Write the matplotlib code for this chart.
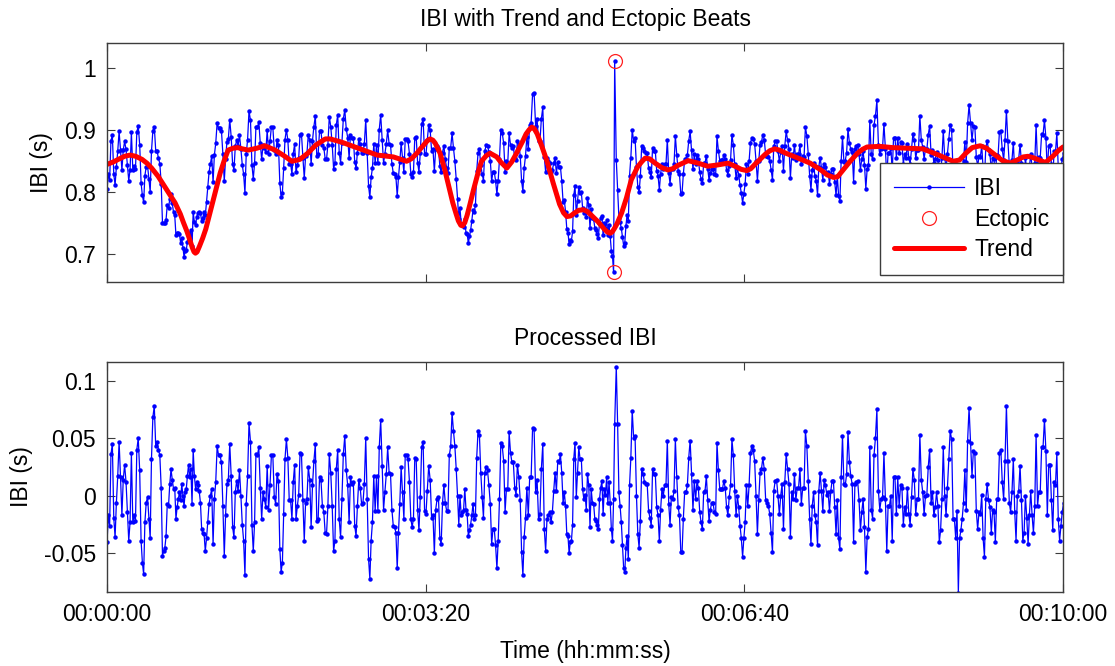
import numpy as np
import matplotlib
matplotlib.use('Agg')
import matplotlib.pyplot as plt

plt.rcParams['font.family'] = ['Liberation Sans', 'DejaVu Sans']

# Inter-beat intervals (ms)
ibi_ms = [
804, 828, 819, 882, 891, 828, 811, 840, 865, 897, 867, 835, 867, 881, 868, 843, 818, 835, 896, 835,
841, 837, 896, 906, 876, 814, 794, 783, 826, 840, 842, 820, 800, 865, 898, 905, 866, 865, 854, 845,
813, 750, 750, 749, 755, 779, 773, 788, 796, 781, 767, 762, 730, 733, 733, 732, 718, 726, 710, 695,
704, 706, 719, 733, 726, 738, 713, 767, 751, 747, 760, 765, 768, 766, 752, 758, 767, 762, 783, 807,
831, 845, 857, 815, 859, 878, 911, 902, 903, 898, 860, 817, 853, 880, 885, 916, 888, 844, 835, 873,
883, 874, 891, 869, 843, 828, 798, 860, 884, 930, 915, 843, 821, 846, 905, 904, 912, 878, 852, 875,
870, 864, 899, 861, 881, 905, 904, 867, 860, 883, 875, 814, 792, 798, 838, 884, 900, 883, 845, 845,
829, 861, 877, 831, 843, 854, 892, 893, 855, 822, 857, 862, 892, 883, 844, 882, 905, 922, 857, 861,
898, 897, 875, 871, 853,
852, 876, 921, 905, 876, 837, 846, 907, 924, 863, 847, 879, 917, 932, 901,
887, 854, 892, 886, 887, 848, 838, 863, 885, 877, 862, 862, 877, 916, 862, 809, 791, 823, 838, 877,
846, 876, 846, 900, 924, 884, 846, 861, 877, 899, 877, 876, 845, 830, 829, 824, 793, 823, 848, 878,
855, 831, 885, 885, 881, 861, 829, 823, 831, 887, 888, 847, 832, 862, 909, 917, 860, 860, 883, 908,
899, 866, 868, 833, 869, 874, 871,
841, 831, 863, 874, 852, 838, 830, 871, 871, 894, 870, 849, 820,
789, 756, 773, 748, 746, 743, 756, 733, 732, 717, 728, 738, 753, 771, 767, 779, 833, 862, 868, 843,
829, 818, 865, 875, 874, 864, 850, 817, 832, 832, 817, 796, 818, 853, 899, 894, 878, 832, 850,
847, 894, 875, 870, 873, 854, 851, 882, 875, 858, 817, 801, 838, 858, 888, 869, 907, 911, 957, 959,
906, 917, 881, 881, 917, 936, 856, 831, 854, 850, 847, 832, 835, 846, 854, 830, 848, 840, 840, 817,
784, 786, 768, 740, 734, 716, 723, 721, 736, 794,
809, 763, 785, 807, 798, 799, 774, 766, 771, 759, 790, 778, 741, 772, 758, 756, 742, 738, 732, 726,
750, 758, 761, 730, 749, 742, 755, 731, 747, 728, 704, 696,
670, 1010, 851, 803, 758,
751, 741, 727, 713, 718, 745, 763, 753, 826, 855, 900, 881, 887,
839, 808, 799, 825, 873, 871, 866, 863, 862, 838, 831, 823, 871, 866, 865, 834, 826, 803, 829, 845,
837, 845, 844, 884, 830, 813, 837, 836, 844, 890, 859, 834, 828, 797, 798, 828, 852, 853, 859,
882, 897, 867, 836, 860, 844, 859, 852, 831, 821, 814, 846, 846, 858, 837, 819, 830, 836, 836, 829,
827, 889, 866, 850, 851, 851, 859, 853, 835, 827, 842, 851, 891, 876, 844, 822, 838, 827, 810,
798, 782, 797, 812, 845, 829, 849, 879, 886, 885, 877, 849, 818, 849, 875, 880, 892, 884, 858, 858,
856, 850, 835, 819, 873, 881, 881, 866, 849, 864, 873, 834, 874, 897, 883, 869, 822, 860, 854, 875,
851, 861, 860, 875, 844, 857, 856, 904, 890, 860, 826, 803, 835, 846,
825, 817, 795, 840, 855, 838, 819, 845, 839, 830, 831, 813, 829, 837, 836, 815, 794, 825, 793, 785,
849, 888, 848, 850, 863, 901, 878, 868, 864, 816, 869, 873, 876, 860, 835, 853, 865, 843, 805, 836,
843, 914, 860, 852, 907, 922, 947, 876, 860, 869, 871, 909, 869, 823, 862, 862, 871, 832, 887, 887,
855, 887, 862, 880, 878, 845, 860, 854, 877, 854, 845, 869, 893, 884, 854, 867, 867, 922, 883, 872,
853, 869, 868, 892, 906, 859, 867, 846, 852, 864, 851, 819, 828, 854, 898, 855, 838, 861, 885,
908, 900, 830, 829, 812, 837, 767, 815, 823, 834, 850, 880, 848, 910, 939, 910, 883, 906, 905, 856,
841, 857, 856, 874, 837, 821, 870, 882, 867, 860, 836, 855, 852, 824, 859, 857, 896, 897, 868, 851,
883, 930, 881, 844, 835, 851, 879, 832, 808, 848, 853, 876, 847, 813, 821, 854, 836, 814, 839,
861, 839, 823, 846, 907, 844, 856, 855, 893, 892, 915, 887, 831, 874, 875, 845, 821, 865, 864, 894,
840, 823, 838, 852, 862, 863, 823,
]

# Processed (detrended, corrected) IBI (ms)
proc_ms = [
-40, -17, -26, 36, 45, -19, -36, -6, 17, 47, 16, -17, 14, 27, 12, -14, -39, -23, 37, -23,
-17, -22, 40, 50, 22, -39, -58, -68, -23, -6, -1, -20, -37, 32, 68, 78, 43, 47, 40, 35,
7, -52, -48, -45, -35, -7, -9, 10, 23, 14, 6, 7, -20, -10, -3, 3, -4, 10, 0, -9,
3, 6, 17, 27, 16, 23, -7, 40, 17, 6, 12, 9, 4, -6, -29, -32, -33, -48, -37, -23,
-7, 0, 6, -42, -3, 12, 43, 35, 35, 29, -9, -52, -17, 10, 14, 45, 17, -27, -36, 3,
13, 4, 22, 0, -25, -39, -69, -7, 17, 63, 47, -25, -48, -23, 36, 35, 42, 7, -20, 3,
-3, -10, 26, -12, 9, 35, 35, -1, -7, 19, 13, -46, -66, -58, -16, 32, 49, 33, -4, -4,
-20, 12, 27, -20, -9, 1, 37, 36, -4, -39, -6, -3, 25, 14, -27, 9, 30, 45, -22, -20,
16, 14, -9, -14, -32,
-33, -9, 36, 20, -9, -48, -39, 23, 40, -20, -36, -3, 36, 52, 22,
9, -23, 16, 10, 12, -26, -35, -9, 14, 7, -7, -6, 10, 50, -3, -55, -72, -39, -23, 17,
-13, 17, -13, 42, 66, 26, -12, 3, 19, 42, 20, 19, -12, -26, -27, -32, -63, -32, -7, 25,
3, -20, 35, 35, 32, 12, -20, -27, -20, 33, 32, -12, -30, -1, 42, 47, -13, -16, 4, 26,
14, -19, -17, -50, -12, -3, -1,
-37, -42, -6, 9, -6, -13, -13, 35, 43, 72, 56, 43, 23,
0, -25, 0, -17, -14, -12, 6, -12, -16, -35, -30, -25, -17, -7, -20, -17, 33, 56, 53, 20,
-1, -19, 20, 25, 22, 9, -7, -42, -29, -29, -43, -63, -39, -3, 46, 43, 30, -14, 6,
6, 55, 37, 29, 29, 7, 1, 27, 16, -4, -49, -69, -36, -19, 7, -17, 16, 16, 59, 58,
3, 14, -20, -16, 23, 45, -29, -48, -20, -17, -14, -23, -14, 4, 20, 4, 30, 29, 36, 20,
-6, 3, -9, -33, -35, -50, -40, -39, -25, 32,
46, -1, 20, 42, 32, 32, 6, -3, 1, -12, 19, 9, -27, 6, -6, -7, -20, -22, -25, -29,
-3, 7, 13, -16, 6, 1, 16, -6, 12, -6, -29, -39,
-3, 62, 112, 62, 3,
-9, -23, -43, -63, -66, -45, -35, -55, 9, 33, 74, 50, 52,
0, -33, -45, -22, 23, 19, 12, 10, 10, -13, -19, -26, 23, 19, 19, -10, -17, -39, -12, 6,
0, 9, 9, 48, -7, -25, -1, -3, 4, 49, 16, -10, -17, -49, -49, -20, 3, 3, 9,
33, 48, 19, -12, 13, -3, 13, 7, -14, -23, -29, 3, 4, 17, -4, -22, -12, -6, -6, -14,
-16, 46, 22, 6, 6, 6, 13, 7, -10, -17, -1, 9, 49, 35, 4, -17, 0, -10, -26,
-37, -53, -37, -23, 9, -9, 9, 37, 43, 40, 30, 0, -33, -4, 20, 23, 33, 23, -4, -6,
-9, -16, -32, -49, 4, 13, 14, 0, -16, 0, 10, -29, 12, 36, 23, 10, -36, 3, -3, 19,
-4, 7, 7, 23, -7, 7, 7, 56, 43, 13, -20, -42, -9, 3,
-17, -23, -43, 4, 20, 4, -13, 14, 9, 1, 3, -13, 4, 13, 13, -10, -33, -4, -37, -46,
16, 52, 10, 9, 19, 55, 29, 17, 10, -40, 10, 12, 13, -4, -30, -14, -3, -27, -66, -36,
-29, 42, -12, -20, 35, 50, 75, 4, -12, -3, -1, 37, -3, -48, -9, -9, 0, -39, 16, 16,
-16, 16, -9, 9, 7, -25, -10, -16, 7, -16, -25, -1, 23, 14, -16, -3, -3, 53, 14, 3,
-16, 0, 1, 25, 40, -6, 3, -17, -10, 3, -9, -40, -30, -3, 42, 0, -17, 7, 32,
56, 49, -20, -20, -37, -13, -84, -37, -30, -20, -6, 22, -12, 48, 76, 46, 17, 39, 37, -13,
-29, -14, -16, 1, -37, -53, -3, 10, -4, -10, -32, -12, -14, -40, -3, -3, 37, 40, 12, -3,
30, 78, 30, -6, -14, 3, 32, -14, -39, 0, 4, 26, -4, -39, -32, 0, -19, -42, -17,
4, -17, -32, -9, 53, -9, 3, 3, 42, 42, 66, 39, -17, 27, 27, -4, -30, 12, 9, 37,
-20, -39, -26, -14, -6, -7, -49,
]

# indices of the two ectopic beats
ectopic_idx = [381, 382]

# Trend curve (time in s, value in ms)
trend_t = [0, 4, 7, 11, 14.5, 18, 22, 25, 28, 32, 37, 42.7, 46, 48, 50, 52,
           53.5, 54.6, 55.5, 56.5, 58, 60, 62, 65, 67.8, 71, 73.5, 76, 79, 82, 85, 88.5,
           94, 99, 105.5, 111, 116, 121, 126, 131, 137, 140,
           147, 154.6, 162, 169.5, 179.7, 188, 191, 194.5, 197, 199, 201, 202.7, 204.5,
           206, 209, 212, 215, 217, 219, 220.5, 222, 223, 224.5, 226, 228, 230, 233, 235,
           238, 240.4, 244.6, 247, 250.9, 254, 257, 259, 261, 263, 265, 266.6, 268, 270,
           272.9, 276, 280, 284, 286.5, 288.6, 291, 293, 296, 299, 301.5, 304, 308, 312, 314,
           315.7, 317, 318.5, 320, 323, 326, 329, 333, 335.5, 337.7, 340.5, 344, 348, 352, 355, 358,
           364.7, 371, 377, 383, 389.8, 395, 398, 401.5, 404, 407, 413, 416, 419, 422,
           426, 433.8, 441.3, 448, 452, 456, 458.5, 461, 466.4, 471, 474, 477, 485, 493,
           512, 521, 531, 535, 539, 543, 548, 552, 557, 562, 567, 572, 575, 578, 581, 584,
           589, 594, 597, 600]
trend_ms = [844, 848, 852, 857, 859, 857, 852, 846, 838, 825, 805, 782, 764, 750, 737, 722,
            710, 703, 701, 703, 712, 725, 740, 770, 798, 830, 850, 867, 870, 871, 869, 867,
            870, 874, 867, 858, 849, 852, 862, 875, 885, 885,
            880, 873, 866, 859, 856, 849, 853, 862, 870, 876, 882, 885, 883,
            878, 862, 835, 803, 782, 765, 753, 746, 745, 750, 762, 782, 803, 832, 849,
            858, 862, 856, 848, 838, 848, 862, 872, 882, 893, 900, 904, 902, 893,
            873, 850, 814, 780, 766, 760, 761, 765, 770, 771, 768, 762, 752, 740, 735,
            733, 735, 741, 748, 766, 790, 819, 840, 848, 854, 853, 846, 839, 835, 837, 842,
            850, 846, 841, 843, 846, 840, 836, 834, 837, 845, 860, 866, 869, 867,
            862, 854, 846, 835, 827, 823, 824, 832, 849, 862, 868, 872, 873, 871,
            869, 860, 849, 851, 862, 871, 874, 870, 860, 850, 846, 852, 856, 857, 855, 852,
            847, 858, 866, 872]

xtick_s = [0, 200, 400, 600]
xtick_labels = ['00:00:00', '00:03:20', '00:06:40', '00:10:00']
top_yticks = [0.7, 0.8, 0.9, 1.0]
top_ylabels = ['0.7', '0.8', '0.9', '1']
bot_yticks = [-0.05, 0.0, 0.05, 0.1]
bot_ylabels = ['-0.05', '0', '0.05', '0.1']

n = min(len(ibi_ms), len(proc_ms))
ibi = np.array(ibi_ms[:n]) / 1000.0
proc = np.array(proc_ms[:n]) / 1000.0
beat_t = np.concatenate([[0.0], np.cumsum(ibi)[:-1]])
m = min(len(trend_t), len(trend_ms))
tr_t = np.array(trend_t[:m])
tr_v = np.array(trend_ms[:m]) / 1000.0

FS = 16.5
SPINE = '#3c3c3c'
fig = plt.figure(figsize=(11.15, 6.66), dpi=100)
ax1 = fig.add_axes([0.0960, 0.5770, 0.8574, 0.3589])
ax2 = fig.add_axes([0.0960, 0.1111, 0.8574, 0.3458])

l_ibi, = ax1.plot(beat_t, ibi, '-', color='#0000ff', lw=0.9, marker='o', ms=3.2,
                  mew=0, label='IBI')
l_ect, = ax1.plot(beat_t[ectopic_idx], ibi[ectopic_idx], 'o', mfc='none', mec='#ff2020',
                  ms=10, mew=0.9, label='Ectopic')
l_tr, = ax1.plot(tr_t, tr_v, '-', color='#ff0000', lw=3.6, label='Trend',
                 solid_capstyle='round', solid_joinstyle='round')

ax2.plot(beat_t, proc, '-', color='#0000ff', lw=0.9, marker='o', ms=3.2, mew=0)

for ax in (ax1, ax2):
    ax.set_xlim(0, 600)
    ax.set_xticks(xtick_s)
    ax.tick_params(direction='in', length=6, width=0.8, top=True, right=True,
                   labelsize=FS, color=SPINE, pad=8)
    for s in ax.spines.values():
        s.set_color(SPINE)
        s.set_linewidth(1.0)

ax1.set_xticklabels([])
ax2.set_xticklabels(xtick_labels)
ax1.set_ylim(0.655, 1.04)
ax1.set_yticks(top_yticks)
ax1.set_yticklabels(top_ylabels)
ax2.set_ylim(-0.0835, 0.1164)
ax2.set_yticks(bot_yticks)
ax2.set_yticklabels(bot_ylabels)

ax1.set_ylabel('IBI (s)', fontsize=FS, labelpad=8)
ax2.set_ylabel('IBI (s)', fontsize=FS, labelpad=8)
ax2.set_xlabel('Time (hh:mm:ss)', fontsize=FS, labelpad=10)
ax1.set_title('IBI with Trend and Ectopic Beats', fontsize=FS, pad=12)
ax2.set_title('Processed IBI', fontsize=FS, pad=12)

leg = ax1.legend(handles=[l_ibi, l_ect, l_tr], loc='lower right',
                 bbox_to_anchor=(1.0, 0.028), borderaxespad=0, fontsize=FS,
                 handlelength=3.05, handletextpad=0.45, labelspacing=0.33,
                 numpoints=1, fancybox=False, framealpha=1, edgecolor=SPINE,
                 borderpad=0.6)
leg.get_frame().set_linewidth(1.0)

fig.savefig('out.png', dpi=100)
